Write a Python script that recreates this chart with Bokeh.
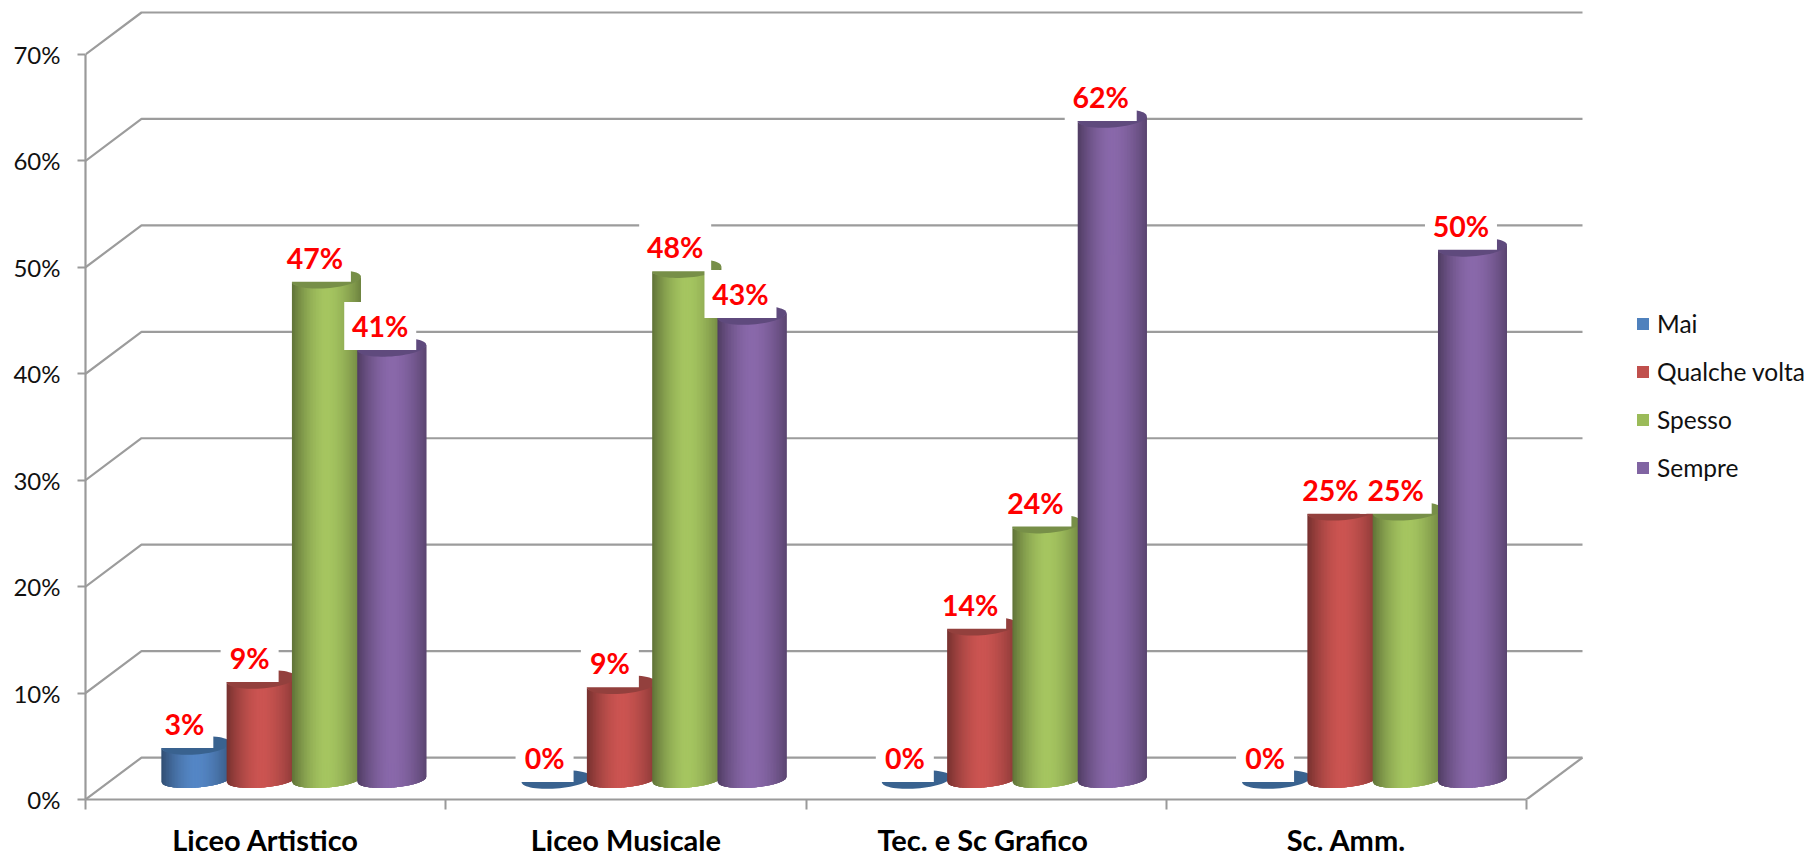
from bokeh.plotting import figure
from bokeh.models import FixedTicker, Legend, LegendItem, Range1d
from bokeh.core.properties import value
from bokeh.embed import file_html
from bokeh.resources import INLINE
import math

categories = ["Liceo Artistico", "Liceo Musicale", "Tec.  e Sc Grafico", "Sc. Amm."]
series_names = ["Mai", "Qualche volta", "Spesso", "Sempre"]
mai = [3.2, 0.0, 0.0, 0.0]
qualche = [9.4, 8.9, 14.4, 25.2]
spesso = [47.0, 48.0, 24.0, 25.2]
sempre = [40.6, 43.6, 62.1, 50.0]
labels_mai = ["3%", "0%", "0%", "0%"]
labels_qualche = ["9%", "9%", "14%", "25%"]
labels_spesso = ["47%", "48%", "24%", "25%"]
labels_sempre = ["41%", "43%", "62%", "50%"]
y_ticks = [0, 10, 20, 30, 40, 50, 60, 70]

series = [mai, qualche, spesso, sempre]
series_labels = [labels_mai, labels_qualche, labels_spesso, labels_sempre]
face = [(85, 135, 198), (204, 85, 82), (166, 198, 97), (138, 105, 171)]
swatch = ["#4f81bd", "#c0504d", "#9bbb59", "#8064a2"]
top_col = ["#39628f", "#93403d", "#778f48", "#5f4a7d"]

W, H = 1809, 859
LEFT, BOTTOM = 85, 59
PX_X, PX_Y = 360.25, 10.657      # pixels per category / per percent
DX, DY = 56 / PX_X, 42 / PX_Y    # depth of the 3D box
frame_w, frame_h = W - LEFT, H - BOTTOM

p = figure(width=W, height=H, output_backend="svg", toolbar_location=None,
           x_range=Range1d(0, frame_w / PX_X), y_range=Range1d(0, frame_h / PX_Y),
           min_border_left=LEFT, min_border_bottom=BOTTOM, min_border_top=0, min_border_right=0,
           x_axis_type="linear", y_axis_type="linear")
p.outline_line_color = None
p.grid.visible = False
GRID = "#9c9c9c"

# walls
n_cat = len(categories)
for v in y_ticks:
    p.line([0, DX, n_cat + DX], [v, v + DY, v + DY], line_color=GRID, line_width=2.2)
p.line([n_cat, n_cat + DX], [0, DY], line_color=GRID, line_width=2.2)

# axes
ya = p.yaxis[0]
ya.ticker = FixedTicker(ticks=y_ticks)
ya.major_label_overrides = {v: f"{v}%" for v in y_ticks}
ya.bounds = (0, y_ticks[-1])
ya.axis_line_color = "#9a9a9a"; ya.axis_line_width = 2.2
ya.major_tick_line_color = "#9a9a9a"; ya.major_tick_line_width = 2
ya.major_tick_in = 0; ya.major_tick_out = 8
ya.minor_tick_line_color = None
ya.major_label_standoff = 17
ya.major_label_text_font = "Lato"; ya.major_label_text_font_size = "24px"
ya.major_label_text_color = "#111111"

xa = p.xaxis[0]
centers = [i + 0.5 for i in range(n_cat)]
xa.ticker = FixedTicker(ticks=centers, minor_ticks=list(range(n_cat + 1)))
xa.major_label_overrides = {c: n for c, n in zip(centers, categories)}
xa.bounds = (0, n_cat)
xa.axis_line_color = "#9a9a9a"; xa.axis_line_width = 2.2
xa.major_tick_line_color = None
xa.minor_tick_line_color = "#9a9a9a"; xa.minor_tick_line_width = 2
xa.minor_tick_in = 0; xa.minor_tick_out = 10
xa.major_label_standoff = 12
xa.major_label_text_font = "Lato"; xa.major_label_text_font_size = "29px"
xa.major_label_text_font_style = "bold"; xa.major_label_text_color = "#000000"

# cylinders
BW, STEP = 69 / PX_X, 65.3 / PX_X
A = BW / 2
RY, SH = 9 / PX_Y, 2.5 / PX_Y     # ellipse semi-height and tilt
BASE = (800 - 780) / PX_Y          # centre of the base ellipse
SHIFT = 2 / PX_X
STRIPS = 46
OVER = 3.5


def shade(col, u):
    edge = 0.58 if u < 0 else 0.66
    t = abs(u) ** 1.7
    f = 1 - (1 - edge) * t
    return "#%02x%02x%02x" % tuple(int(c * f) for c in col)


box_x, box_y, box_w, txt = [], [], [], []
for s, vals in enumerate(series):
    xs, ys, cols = [], [], []
    ex, ey = [], []
    for c, v in enumerate(vals):
        cx = c + 0.5 + DX / 2 - 1.5 * STEP - (BW - STEP) / 2 + s * STEP + SHIFT
        top = BASE + v
        for k in range(STRIPS):
            u0 = -1 + 2 * k / STRIPS
            u1 = min(-1 + 2 * (k + OVER) / STRIPS, 1)
            um = -1 + 2 * (k + 0.5) / STRIPS
            us = [u0 + (u1 - u0) * i / 4 for i in range(5)]
            fr = [-RY * math.sqrt(max(0, 1 - u * u)) * 0.9 + SH * u for u in us]
            if v > 0:
                xs.append([cx + A * u for u in us] + [cx + A * u for u in reversed(us)])
                ys.append([top + f for f in fr] + [BASE + f for f in reversed(fr)])
                cols.append(shade(face[s], um))
        ex.append([cx + A * math.cos(2 * math.pi * i / 60) for i in range(60)])
        ey.append([top + SH * math.cos(2 * math.pi * i / 60) + RY * math.sin(2 * math.pi * i / 60)
                   for i in range(60)])
        w_txt = 72 if len(series_labels[s][c]) == 3 else 58
        bx = cx - 11.5 / PX_X
        box_x.append(bx); box_y.append(top - SH + 24 / PX_Y); box_w.append(w_txt)
        txt.append(series_labels[s][c])
    if xs:
        p.patches(xs, ys, fill_color=cols, line_color=None)
    p.patches(ex, ey, fill_color=top_col[s], line_color=None)

p.rect(box_x, box_y, width=box_w, height=48, width_units="screen", height_units="screen",
       fill_color="white", line_color=None)
p.text(box_x, box_y, text=txt, text_align="center", text_baseline="middle",
       text_color="#ff0000", text_font=value("Lato"), text_font_style="bold",
       text_font_size=value("28.5px"))

# legend
items = []
for name, col in zip(series_names, swatch):
    r = p.quad(left=[float("nan")], right=[float("nan")], top=[float("nan")], bottom=[float("nan")],
               fill_color=col, line_color=None)
    items.append(LegendItem(label=name, renderers=[r]))
leg = Legend(items=items, location=(1550, 315), orientation="vertical",
             glyph_width=15, glyph_height=15, label_height=33, label_standoff=7,
             spacing=15, padding=0, margin=0, border_line_color=None,
             background_fill_alpha=0, label_text_font="Lato", label_text_font_size="24.5px",
             label_text_color="#111111")
p.add_layout(leg, "center")

open("out.html", "w").write(file_html(p, INLINE))
